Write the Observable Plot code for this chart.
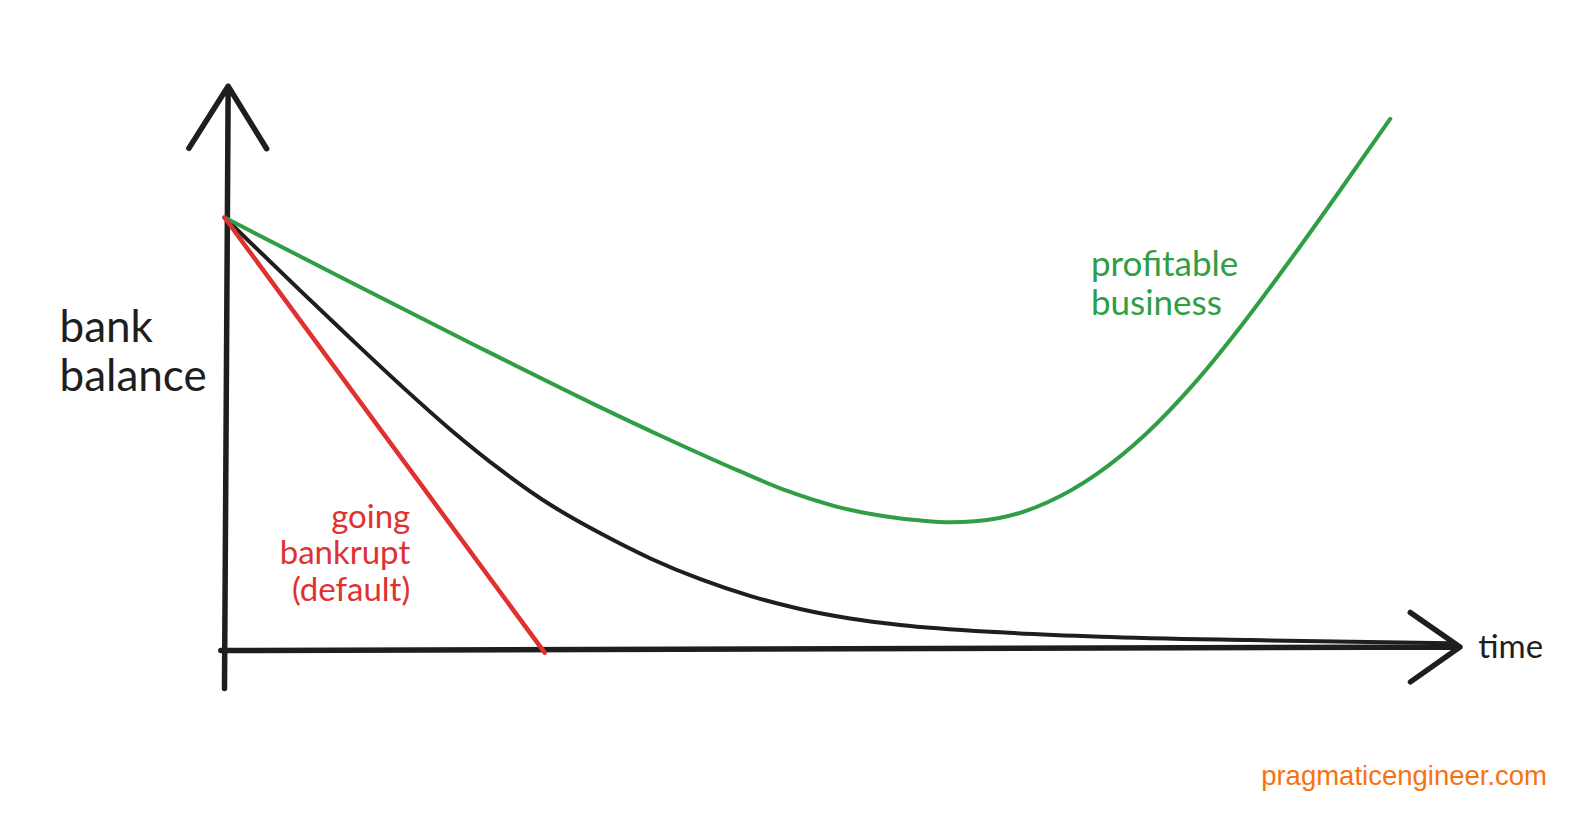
<!DOCTYPE html>
<html>
<head>
<meta charset="utf-8">
<script src="https://cdn.jsdelivr.net/npm/d3@7"></script>
<script src="https://cdn.jsdelivr.net/npm/@observablehq/plot@0.6"></script>
<style>
  html, body { margin: 0; padding: 0; background: #ffffff; }
  #wrap { position: relative; width: 1580px; height: 826px; overflow: hidden; background: #fff; }
  #credit {
    position: absolute; right: 33px; top: 760px;
    font-family: "Liberation Sans", Arial, Helvetica, sans-serif;
    font-size: 27.5px; color: #f7720f;
  }
</style>
</head>
<body>
<div id="wrap">
  <div id="chart"></div>
  <div id="credit">pragmaticengineer.com</div>
</div>
<script>
// ---- data (time 0..100, bank balance 0..100) ----
const profitableTime    = [0, 10, 20, 30, 36, 42, 46, 50, 54, 57, 59.4, 63.4, 67.4, 71.4, 75.4, 79.4, 83.4, 87.4, 91.4, 95.4];
const profitableBalance = [100, 85.5, 71.2, 57.2, 49.2, 41.6, 36.9, 33.3, 31.0, 30.0, 29.6, 30.6, 34.3, 40.8, 50.0, 61.8, 75.7, 90.9, 106.7, 122.8];

const slowTime    = [0, 6.2, 10.3, 14.4, 18.5, 22.6, 26.7, 30.8, 34.9, 39.0, 43.0, 47.1, 51.2, 55.3, 63.5, 71.7, 84.0, 100.3];
const slowBalance = [100, 83.1, 72.1, 61.3, 51.0, 41.7, 33.6, 27.0, 21.2, 16.4, 12.6, 9.6, 7.4, 5.9, 4.2, 3.2, 2.4, 1.7];

const bankruptTime    = [0, 26.2];
const bankruptBalance = [100, -0.5];

// axis extents (data units)
const timeAxis    = {from: -0.3, to: 101.1, lift: 0.8};
const balanceAxis = {from: -8.8, to: 130.3, lean: 0.3};

// annotation labels
const labelText   = ["bank\nbalance", "time", "going\nbankrupt\n(default)", "profitable\nbusiness"];
const labelTime   = [-13.5, 102.6, 15.2, 70.9];
const labelValue  = [69.2, 0.6, 22.6, 84.8];
const labelSeries = ["axis", "axis", "bankrupt", "profitable"];

// ---- build tables ----
const toRows = (xs, ys) => xs.map((x, i) => ({time: x, balance: ys[i]}));
const profitable = toRows(profitableTime, profitableBalance);
const slow = toRows(slowTime, slowBalance);
const bankrupt = toRows(bankruptTime, bankruptBalance);
const labels = labelText.map((t, i) => ({text: t, time: labelTime[i], balance: labelValue[i], series: labelSeries[i]}));

const COLORS = {axis: "#1e1e1e", bankrupt: "#e03131", profitable: "#2f9e44", slow: "#1e1e1e"};
const FONT = "Lato, 'Open Sans', 'Noto Sans', sans-serif";

const chart = Plot.plot({
  width: 1580,
  height: 826,
  marginLeft: 224,
  marginRight: 134,
  marginTop: 217,
  marginBottom: 176,
  x: {domain: [0, 100], axis: null},
  y: {domain: [0, 100], axis: null},
  style: {background: "#fff", overflow: "visible"},
  marks: [
    // axes as hand-drawn arrows
    Plot.arrow([timeAxis], {
      x1: d => d.from, y1: 0, x2: d => d.to, y2: d => d.lift,
      stroke: COLORS.axis, strokeWidth: 5.5, headLength: 16.5, headAngle: 70,
      strokeLinecap: "round", strokeLinejoin: "round"
    }),
    Plot.arrow([balanceAxis], {
      x1: 0, y1: d => d.from, x2: d => d.lean, y2: d => d.to,
      stroke: COLORS.axis, strokeWidth: 5.5, headLength: 20, headAngle: 64,
      strokeLinecap: "round", strokeLinejoin: "round"
    }),
    Plot.line(slow, {x: "time", y: "balance", stroke: COLORS.slow, strokeWidth: 4, curve: "monotone-x", strokeLinecap: "round"}),
    Plot.line(profitable, {x: "time", y: "balance", stroke: COLORS.profitable, strokeWidth: 4, curve: "monotone-x", strokeLinecap: "round"}),
    Plot.line(bankrupt, {x: "time", y: "balance", stroke: COLORS.bankrupt, strokeWidth: 4.5, strokeLinecap: "round"}),
    // labels
    Plot.text(labels.filter(d => d.text.startsWith("bank\n")), {
      x: "time", y: "balance", text: "text", textAnchor: "start", lineAnchor: "middle",
      fill: COLORS.axis, fontSize: 44, lineHeight: 1.11, fontFamily: FONT
    }),
    Plot.text(labels.filter(d => d.text === "time"), {
      x: "time", y: "balance", text: "text", textAnchor: "start", lineAnchor: "middle",
      fill: COLORS.axis, fontSize: 33, fontFamily: FONT
    }),
    Plot.text(labels.filter(d => d.series === "bankrupt"), {
      x: "time", y: "balance", text: "text", textAnchor: "end", lineAnchor: "middle",
      fill: COLORS.bankrupt, fontSize: 33, lineHeight: 1.11, fontFamily: FONT
    }),
    Plot.text(labels.filter(d => d.series === "profitable"), {
      x: "time", y: "balance", text: "text", textAnchor: "start", lineAnchor: "middle",
      fill: COLORS.profitable, fontSize: 35, lineHeight: 1.1, fontFamily: FONT
    })
  ]
});
document.getElementById("chart").appendChild(chart);
</script>
</body>
</html>
